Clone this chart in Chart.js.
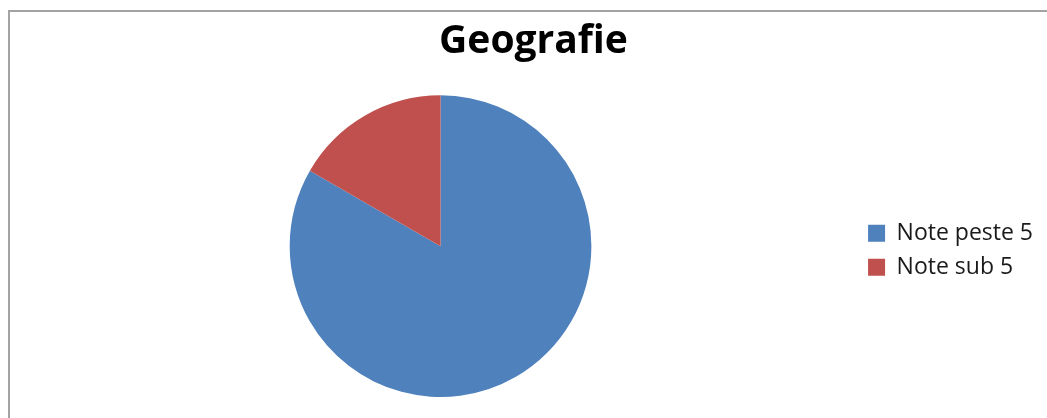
<!DOCTYPE html>
<html>
<head>
<meta charset="utf-8">
<script src="https://cdn.jsdelivr.net/npm/chart.js@4/dist/chart.umd.min.js"></script>
<style>
  html, body { margin: 0; padding: 0; background: #fff; width: 1047px; height: 418px; overflow: hidden; }
  #frame { position: absolute; left: 8px; top: 10px; width: 1040px; height: 420px;
           border-left: 2px solid #a3a3a3; border-top: 2px solid #a3a3a3; box-sizing: border-box; }
  #wrap { position: absolute; left: 10px; top: 12px; width: 1037px; height: 406px; }
</style>
</head>
<body>
<div id="frame"></div>
<div id="wrap"><canvas id="c"></canvas></div>
<script>
const chartTitle = "Geografie";
const categories = ["Note peste 5", "Note sub 5"];
const values = [25, 5];
const colors = ["#4F81BD", "#C0504D"];

new Chart(document.getElementById('c'), {
  type: 'pie',
  data: {
    labels: categories,
    datasets: [{ data: values, backgroundColor: colors, borderWidth: 0 }]
  },
  options: {
    responsive: true,
    maintainAspectRatio: false,
    animation: false,
    layout: { padding: { left: 14, right: 4, top: 0, bottom: 21 } },
    plugins: {
      title: {
        display: true,
        text: chartTitle,
        color: '#000',
        font: { family: 'Open Sans', size: 39, weight: 'bold' },
        padding: { top: 6.5, bottom: 30 }
      },
      legend: {
        position: 'right',
        fullSize: false,
        title: { display: true, text: '', font: { size: 5 }, padding: 1 },
        labels: {
          color: '#1a1a1a',
          font: { family: 'Open Sans', size: 23 },
          boxWidth: 17, boxHeight: 17, padding: 11
        }
      },
      tooltip: { enabled: false }
    }
  }
});
</script>
</body>
</html>
